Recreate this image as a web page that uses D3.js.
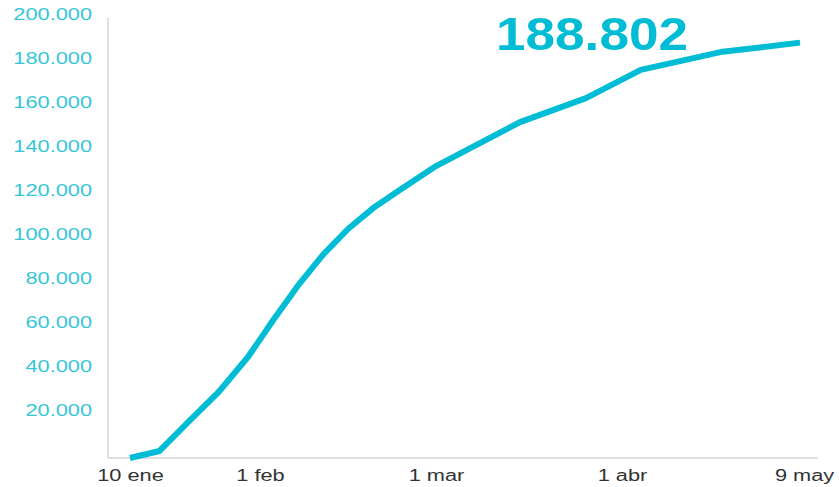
<html>
    <head>
        <meta charset="utf-8" />
        <script src="https://d3js.org/d3.v7.min.js"></script>
        <style>
            body { margin: 0; background: #fff; }
            svg { display: block; font-family: "Liberation Sans", Arial, sans-serif; }
            .domain { stroke: #d4d4d4; stroke-width: 1.5; }
            .line { fill: none; stroke: #00bcd4; stroke-width: 6; stroke-linejoin: round; }
        </style>
    </head>
    <body>
        <svg id="chart" width="839" height="487"></svg>
        <script>
            // valores (acumulado)
            let dates = ["2021-01-10","2021-01-15","2021-01-20","2021-01-25","2021-01-30","2021-02-03",
                         "2021-02-07","2021-02-11","2021-02-15","2021-02-19","2021-02-23","2021-03-01",
                         "2021-03-08","2021-03-15","2021-03-26","2021-04-05","2021-04-22","2021-05-09"]
            let values = [0, 3200, 16800, 30000, 46000, 62300, 78200, 92300, 104100, 113600, 121400,
                          132700, 142700, 152700, 163600, 176400, 184500, 188802]
            let xTickDates = ["2021-01-10","2021-02-01","2021-03-01","2021-04-01","2021-05-09"]
            let xTickLabels = ["10 ene","1 feb","1 mar","1 abr","9 may"]
            let yTicks = [20000, 40000, 60000, 80000, 100000, 120000, 140000, 160000, 180000, 200000]
            let lastLabel = "188.802"

            let parse = d3.timeParse("%Y-%m-%d")
            let data = dates.map((d, i) => ({date: parse(d), value: values[i]}))
            let tickDates = xTickDates.map(parse)

            let svg = d3.select("#chart")
            let es = d3.formatLocale({decimal: ",", thousands: ".", grouping: [3], currency: ["", "€"]})

            // la escala horizontal del original no es uniforme
            let x = d3.scaleTime().domain(tickDates).range([130, 260, 436, 622, 800])
            let y = d3.scaleLinear().domain([0, 200000]).range([458, 18])

            let yAxis = svg.append("g")
                .attr("transform", "translate(108,0)")
                .call(d3.axisLeft(y).tickValues(yTicks).tickSize(0).tickPadding(16).tickFormat(es.format(",")))
            yAxis.select(".domain").attr("d", "M0,18V458")
            yAxis.selectAll("text")
                .attr("font-size", 16)
                .attr("fill", "#35c6da")
                .attr("dy", "0.1em")
                .each(function() { this.setAttribute("textLength", this.getComputedTextLength() * 1.36) })
                .attr("lengthAdjust", "spacingAndGlyphs")

            let xAxis = svg.append("g")
                .attr("transform", "translate(0,458)")
                .call(d3.axisBottom(x).tickValues(tickDates).tickSize(0).tickPadding(12)
                    .tickFormat((d, i) => xTickLabels[i]))
            xAxis.select(".domain").attr("d", "M108,0H818")
            xAxis.selectAll("text")
                .attr("font-size", 16)
                .attr("fill", "#333")
                .attr("dx", (d, i) => i == xTickLabels.length - 1 ? 4 : 0)
                .each(function() { this.setAttribute("textLength", this.getComputedTextLength() * 1.36) })
                .attr("lengthAdjust", "spacingAndGlyphs")

            let line = d3.line().x(d => x(d.date)).y(d => y(d.value))
            svg.append("path").datum(data).attr("class", "line").attr("d", line)

            svg.append("text")
                .attr("x", 592).attr("y", 50)
                .attr("text-anchor", "middle")
                .attr("font-size", 46).attr("font-weight", "bold")
                .attr("fill", "#00bcd4")
                .attr("textLength", 192).attr("lengthAdjust", "spacingAndGlyphs")
                .text(lastLabel)
        </script>
    </body>
</html>
